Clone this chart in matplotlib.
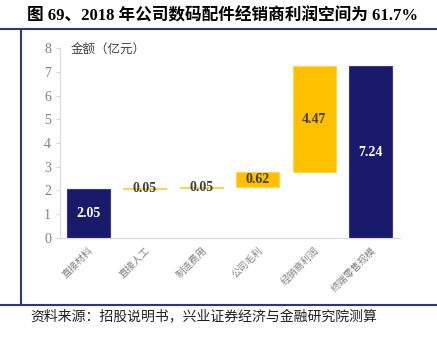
import numpy as np
import matplotlib.pyplot as plt
from matplotlib.lines import Line2D

# ---------------------------------------------------------
# data (亿元)
# ---------------------------------------------------------
categories = ["直接材料", "直接人工", "制造费用", "公司毛利", "经销商利润", "终端零售规模"]
values = [2.05, 0.05, 0.05, 0.62, 4.47, 7.24]
is_total = [True, False, False, False, False, True]

NAVY = "#1a1a6b"
GOLD = "#ffc000"
FRAME = "#2f3580"
GRAY = "#7f7f7f"
SERIF = ["Liberation Serif", "Noto Sans CJK SC"]
CJK = ["Noto Sans CJK SC", "DejaVu Sans"]

# waterfall bottoms: totals start at 0, steps stack on the running sum
bottoms = []
running = 0.0
for v, tot in zip(values, is_total):
    if tot:
        bottoms.append(0.0)
        running = v
    else:
        bottoms.append(running)
        running += v

fig = plt.figure(figsize=(4.37, 3.38), dpi=100)
ax = fig.add_axes([0.1373, 0.2959, 0.778, 0.562])

x = np.arange(len(categories))
colors = [NAVY if t else GOLD for t in is_total]
edges = ["#3a3a8a" if t else "#ffd54f" for t in is_total]
ax.bar(x, values, bottom=bottoms, width=0.76, color=colors,
       edgecolor=edges, linewidth=0.8, zorder=2)

for xi, v, b, t in zip(x, values, bottoms, is_total):
    ax.text(xi, b + v / 2, f"{v:.2f}", ha="center", va="center",
            fontsize=10, fontweight="bold", family=SERIF,
            color="white" if t else "#404040", zorder=3)

ax.set_xlim(-0.5, 5.52)
ax.set_ylim(0, 8)
ax.set_yticks(range(0, 9))
ax.tick_params(axis="y", labelsize=10, colors="#d9d9d9", labelcolor=GRAY, length=3)
for lab in ax.get_yticklabels():
    lab.set_family(SERIF)

ax.set_xticks(x)
ax.set_xticklabels(categories, rotation=45, ha="right", va="top",
                   rotation_mode="anchor", fontsize=7, color=GRAY, family=CJK)
ax.tick_params(axis="x", length=0, pad=5)

for side in ["top", "right"]:
    ax.spines[side].set_visible(False)
for side in ["left", "bottom"]:
    ax.spines[side].set_color("#d9d9d9")

ax.text(0.03, 0.995, "金额（亿元）", transform=ax.transAxes, ha="left", va="center",
        fontsize=9, color="#404040", family=CJK)

# title, frame and source note
fig.text(0.51, 0.952, "图 69、2018 年公司数码配件经销商利润空间为 61.7%",
         ha="center", va="center", fontsize=12, fontweight="bold", family=SERIF)
fig.add_artist(Line2D([0, 1], [0.914, 0.914], color=FRAME, lw=1.5))
fig.add_artist(Line2D([0.049, 0.049], [0.914, 0.098], color=FRAME, lw=1.5))
fig.add_artist(Line2D([0, 1], [0.098, 0.098], color=FRAME, lw=1.5))
fig.text(0.07, 0.06, "资料来源：招股说明书，兴业证券经济与金融研究院测算",
         ha="left", va="center", fontsize=10, family=CJK, color="#202020")

fig.savefig("out.png", dpi=100)
